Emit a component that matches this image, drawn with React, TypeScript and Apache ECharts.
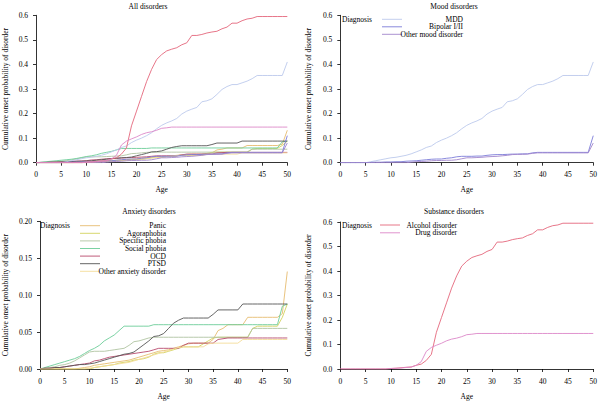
import React, { useEffect, useRef } from "react";
import * as echarts from "echarts";

const ages = [0,1,2,3,4,5,6,7,8,9,10,11,12,13,14,15,16,17,18,19,20,21,22,23,24,25,26,27,28,29,30,31,32,33,34,35,36,37,38,39,40,41,42,43,44,45,46,47,48,49,50];

// Mood disorders
const mdd = [0,0,0,0,0,0,0.004,0.008,0.012,0.016,0.02,0.022,0.026,0.03,0.036,0.044,0.052,0.062,0.068,0.082,0.092,0.1,0.11,0.122,0.138,0.152,0.162,0.17,0.18,0.198,0.21,0.218,0.225,0.248,0.252,0.26,0.278,0.298,0.31,0.318,0.318,0.325,0.332,0.342,0.355,0.355,0.355,0.355,0.355,0.355,0.41];
const bipolar = [0,0,0,0,0,0,0.001,0.002,0.002,0.003,0.003,0.004,0.004,0.006,0.007,0.008,0.01,0.012,0.014,0.015,0.015,0.018,0.02,0.024,0.026,0.026,0.026,0.027,0.027,0.03,0.032,0.033,0.033,0.034,0.035,0.035,0.036,0.036,0.04,0.042,0.042,0.042,0.042,0.042,0.042,0.042,0.042,0.042,0.042,0.042,0.11];
const otherMood = [0,0,0,0,0,0,0,0,0,0,0,0,0,0,0.002,0.004,0.005,0.006,0.008,0.009,0.009,0.01,0.01,0.012,0.016,0.02,0.02,0.021,0.022,0.024,0.025,0.026,0.028,0.03,0.033,0.034,0.034,0.035,0.038,0.04,0.04,0.04,0.04,0.04,0.04,0.04,0.04,0.04,0.04,0.04,0.08];

// Anxiety disorders
const panic = [0,0,0,0,0,0,0,0,0.001,0.002,0.003,0.005,0.006,0.007,0.008,0.009,0.01,0.011,0.012,0.014,0.016,0.018,0.02,0.022,0.024,0.025,0.026,0.028,0.03,0.032,0.034,0.035,0.035,0.035,0.035,0.04,0.052,0.055,0.06,0.06,0.06,0.06,0.07,0.07,0.07,0.07,0.07,0.07,0.07,0.075,0.132];
const agoraphobia = [0,0,0,0,0,0,0,0,0,0,0,0.002,0.003,0.004,0.005,0.006,0.008,0.009,0.01,0.012,0.013,0.014,0.016,0.02,0.022,0.022,0.024,0.026,0.028,0.03,0.03,0.03,0.03,0.034,0.038,0.042,0.043,0.043,0.043,0.043,0.043,0.043,0.043,0.055,0.058,0.058,0.058,0.058,0.058,0.07,0.088];
const specificPhobia = [0,0.001,0.002,0.003,0.005,0.006,0.008,0.011,0.015,0.019,0.023,0.024,0.024,0.024,0.025,0.026,0.027,0.028,0.032,0.037,0.038,0.04,0.042,0.043,0.043,0.043,0.043,0.043,0.043,0.043,0.043,0.043,0.043,0.043,0.043,0.043,0.043,0.043,0.043,0.043,0.043,0.043,0.043,0.055,0.055,0.055,0.055,0.055,0.055,0.055,0.055];
const socialPhobia = [0,0.002,0.004,0.006,0.008,0.01,0.012,0.014,0.017,0.021,0.025,0.028,0.032,0.038,0.042,0.046,0.052,0.058,0.058,0.058,0.058,0.058,0.058,0.06,0.06,0.06,0.06,0.06,0.06,0.06,0.06,0.06,0.06,0.06,0.06,0.06,0.06,0.06,0.06,0.06,0.06,0.06,0.06,0.06,0.06,0.06,0.06,0.06,0.06,0.085,0.088];
const ocd = [0,0.001,0.001,0.002,0.002,0.003,0.004,0.005,0.006,0.007,0.008,0.011,0.012,0.014,0.016,0.017,0.018,0.019,0.02,0.021,0.022,0.023,0.024,0.026,0.028,0.028,0.028,0.028,0.028,0.032,0.035,0.035,0.035,0.035,0.035,0.035,0.04,0.041,0.042,0.042,0.042,0.042,0.042,0.042,0.042,0.042,0.042,0.042,0.042,0.042,0.042];
const ptsd = [0,0.001,0.001,0.002,0.002,0.003,0.004,0.005,0.006,0.006,0.007,0.008,0.01,0.012,0.014,0.016,0.018,0.02,0.021,0.023,0.028,0.033,0.038,0.044,0.045,0.048,0.055,0.062,0.066,0.069,0.069,0.069,0.069,0.069,0.069,0.074,0.08,0.08,0.08,0.08,0.08,0.088,0.088,0.088,0.088,0.088,0.088,0.088,0.088,0.088,0.088];
const otherAnxiety = [0,0,0,0,0,0,0,0,0,0,0.001,0.002,0.003,0.004,0.005,0.006,0.007,0.008,0.009,0.011,0.013,0.015,0.017,0.019,0.021,0.023,0.025,0.027,0.029,0.03,0.03,0.03,0.03,0.03,0.034,0.035,0.035,0.035,0.035,0.035,0.035,0.04,0.04,0.04,0.04,0.04,0.04,0.04,0.04,0.04,0.04];

// Substance disorders
const alcohol = [0,0,0,0,0,0,0,0,0,0,0.002,0.003,0.005,0.007,0.008,0.015,0.02,0.035,0.06,0.15,0.21,0.27,0.33,0.38,0.42,0.44,0.455,0.462,0.468,0.48,0.488,0.518,0.518,0.522,0.528,0.532,0.535,0.545,0.552,0.568,0.568,0.578,0.585,0.588,0.595,0.595,0.595,0.595,0.595,0.595,0.595];
const drug = [0,0,0,0,0,0,0,0,0,0,0.002,0.003,0.004,0.006,0.008,0.015,0.03,0.072,0.088,0.097,0.105,0.115,0.122,0.126,0.132,0.14,0.142,0.145,0.145,0.145,0.145,0.145,0.145,0.145,0.145,0.145,0.145,0.145,0.145,0.145,0.145,0.145,0.145,0.145,0.145,0.145,0.145,0.145,0.145,0.145,0.145];

const panelTitles = ["All disorders", "Mood disorders", "Anxiety disorders", "Substance disorders"];
const moodNames = ["MDD", "Bipolar I/II", "Other mood disorder"];
const anxietyNames = ["Panic", "Agoraphobia", "Specific phobia", "Social phobia", "OCD", "PTSD", "Other anxiety disorder"];
const substanceNames = ["Alcohol disorder", "Drug disorder"];
const yTicks01 = [0, 0.6, 0.1];
const yTicks23 = [0, 0.2, 0.05];

const moodData = [mdd, bipolar, otherMood];
const anxietyData = [panic, agoraphobia, specificPhobia, socialPhobia, ocd, ptsd, otherAnxiety];
const substanceData = [alcohol, drug];

const moodColors = ["#bccaec", "#7c7cd8", "#a286cc"];
const anxietyColors = ["#e6bc70", "#d3d35e", "#b0c4a2", "#6ccd98", "#b84a6c", "#555555", "#f4dc98"];
const substanceColors = ["#e4667c", "#dc88c8"];

const FONT = "Liberation Serif";
const FS = 7.5;

const grids = [
  { left: 34.3, top: 15.3, width: 253, height: 147.4 },
  { left: 340.3, top: 15.3, width: 253, height: 147.4 },
  { left: 38.3, top: 221.3, width: 249, height: 147.7 },
  { left: 340.3, top: 222, width: 253, height: 147 },
];

function pairs(vals: number[]) {
  return ages.map((a, i) => [a, vals[i]]);
}

export default function App() {
  const ref = useRef<HTMLDivElement>(null);
  useEffect(() => {
    if (!ref.current) return;
    const chart = echarts.init(ref.current, null, { renderer: "svg" });
    const txt = { fontFamily: FONT, fontSize: FS, color: "#000" };

    const xAxes = grids.map((_, i) => ({
      type: "value",
      gridIndex: i,
      min: 0,
      max: 50,
      interval: 5,
      offset: 3,
      name: "Age",
      nameLocation: "middle",
      nameGap: 20,
      nameTextStyle: txt,
      axisLine: { show: true, lineStyle: { color: "#000", width: 0.8 } },
      axisTick: { show: true, length: 3, lineStyle: { color: "#000", width: 0.8 } },
      axisLabel: { ...txt, margin: 5 },
      splitLine: { show: false },
    }));

    const yAxes = grids.map((_, i) => {
      const t = i === 2 ? yTicks23 : yTicks01;
      return {
        type: "value",
        gridIndex: i,
        min: t[0],
        max: t[1],
        interval: t[2],
        offset: 2,
        name: "Cumulative onset probability of disorder",
        nameLocation: "middle",
        nameGap: i === 2 ? 29 : i === 0 ? 25 : 26,
        nameRotate: 90,
        nameTextStyle: txt,
        axisLine: { show: true, lineStyle: { color: "#000", width: 0.8 } },
        axisTick: { show: true, length: 3, lineStyle: { color: "#000", width: 0.8 } },
        axisLabel: {
          ...txt,
          margin: 6,
          formatter: (v: number) => (i === 2 ? v.toFixed(2) : v.toFixed(1)),
        },
        splitLine: { show: false },
      };
    });

    const mk = (name: string, vals: number[], color: string, idx: number) => ({
      type: "line",
      name,
      xAxisIndex: idx,
      yAxisIndex: idx,
      data: pairs(vals),
      symbol: "none",
      lineStyle: { color, width: 0.9 },
      itemStyle: { color },
      silent: true,
    });

    const series: any[] = [];
    anxietyNames.forEach((n, k) => series.push(mk(n, anxietyData[k], anxietyColors[k], 0)));
    moodNames.forEach((n, k) => series.push(mk(n, moodData[k], moodColors[k], 0)));
    substanceNames.forEach((n, k) => series.push(mk(n, substanceData[k], substanceColors[k], 0)));
    moodNames.forEach((n, k) => series.push(mk(n, moodData[k], moodColors[k], 1)));
    anxietyNames.forEach((n, k) => series.push(mk(n, anxietyData[k], anxietyColors[k], 2)));
    substanceNames.forEach((n, k) => series.push(mk(n, substanceData[k], substanceColors[k], 3)));

    const graphics: any[] = [];
    const titlePos = [
      [148, 6],
      [454, 6],
      [149, 211],
      [454, 211],
    ];
    panelTitles.forEach((t, i) =>
      graphics.push({
        type: "text",
        x: titlePos[i][0],
        y: titlePos[i][1],
        style: { text: t, fill: "#000", font: `${FS}px ${FONT}`, textAlign: "center", textVerticalAlign: "middle" },
      })
    );

    const legend = (
      names: string[],
      colors: string[],
      dx: number,
      lx0: number,
      lx1: number,
      rx: number,
      y0: number,
      step: number
    ) => {
      graphics.push({
        type: "text",
        x: dx,
        y: y0,
        style: { text: "Diagnosis", fill: "#000", font: `${FS}px ${FONT}`, textAlign: "left", textVerticalAlign: "middle" },
      });
      names.forEach((n, k) => {
        const y = y0 + k * step;
        graphics.push({
          type: "line",
          shape: { x1: lx0, y1: y, x2: lx1, y2: y },
          style: { stroke: colors[k], lineWidth: 0.9 },
        });
        graphics.push({
          type: "text",
          x: rx,
          y,
          style: {
            text: n,
            fill: "#000",
            font: `${FS}px ${FONT}`,
            textAlign: "right",
            textVerticalAlign: "middle",
          },
        });
      });
    };
    legend(moodNames, moodColors, 342, 382, 402, 463, 19.3, 7.5);
    legend(anxietyNames, anxietyColors, 40, 80, 100, 166, 225.7, 7.6);
    legend(substanceNames, substanceColors, 342, 380, 400, 457, 225, 7.8);

    chart.setOption({
      animation: false,
      backgroundColor: "#fff",
      textStyle: { fontFamily: FONT },
      grid: grids,
      xAxis: xAxes,
      yAxis: yAxes,
      series,
      graphic: graphics,
    });
    return () => chart.dispose();
  }, []);
  return (
    <div
      ref={ref}
      style={{ position: "absolute", left: 0, top: 0, width: 600, height: 403, background: "#fff" }}
    />
  );
}
